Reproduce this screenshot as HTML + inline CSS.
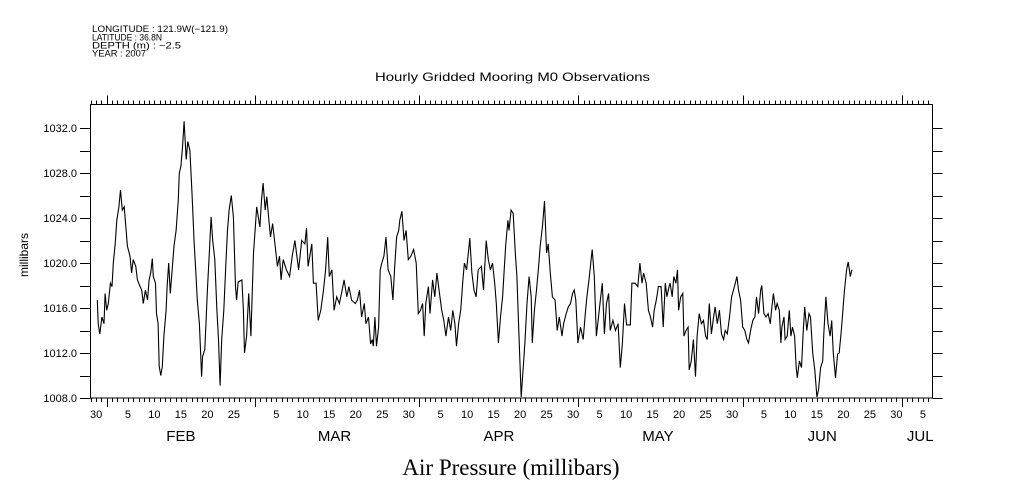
<!DOCTYPE html>
<html><head><meta charset="utf-8"><style>
html,body{margin:0;padding:0;background:#fff;}
svg{display:block;}
text{font-family:"Liberation Sans",sans-serif;fill:#000;}
</style></head><body>
<svg id="chart" width="1009" height="504" viewBox="0 0 1009 504" xmlns="http://www.w3.org/2000/svg">
<g font-size="9">
<text x="92" y="32" textLength="136" lengthAdjust="spacingAndGlyphs">LONGITUDE : 121.9W(−121.9)</text>
<text x="92" y="40.5" textLength="70" lengthAdjust="spacingAndGlyphs">LATITUDE : 36.8N</text>
<text x="92" y="48.5" textLength="89" lengthAdjust="spacingAndGlyphs">DEPTH (m) : −2.5</text>
<text x="92" y="56.5" textLength="54" lengthAdjust="spacingAndGlyphs">YEAR : 2007</text>
</g>
<text x="375" y="81" font-size="12" textLength="275" lengthAdjust="spacingAndGlyphs">Hourly Gridded Mooring M0 Observations</text>
<text transform="translate(28,255) rotate(-90)" text-anchor="middle" font-size="12">millibars</text>
<text x="511" y="475" text-anchor="middle" font-size="23" style="font-family:'Liberation Serif',serif">Air Pressure (millibars)</text>
<rect x="90.5" y="104.5" width="842" height="293.5" fill="none" stroke="#000" stroke-width="1"/>
<g id="axes"></g>
<g id="series"></g>
</svg>
<script>
// time in days since Feb 1 2007; values in millibars
const days = [-1.77,-1.6,-1.3,-0.9,-0.5,-0.3,0,0.3,0.7,1.0,1.25,1.6,1.9,2.3,2.6,2.95,3.3,3.5,3.9,4.4,4.7,5.0,5.5,5.8,6.3,6.6,6.9,7.3,7.7,8.0,8.3,8.6,8.8,9.2,9.4,9.7,9.9,10.2,10.5,10.8,11.2,11.4,11.7,12.0,12.3,12.7,13.1,13.5,13.7,14.0,14.3,14.6,15.0,15.3,15.7,16.1,16.5,16.8,17.1,17.5,17.9,18.1,18.5,18.7,19.0,19.4,19.7,20.0,20.4,20.8,21.1,21.4,21.7,22.1,22.5,22.8,23.1,23.5,23.9,24.3,24.5,24.8,25.5,25.8,26.0,26.4,26.8,27.2,27.4,27.7,28.0,28.3,28.6,28.9,29.2,29.5,29.9,30.2,30.6,30.9,31.3,31.8,32.2,32.6,32.9,33.3,33.9,34.5,
35.0,35.5,36.2,36.8,37.4,37.7,38.0,38.7,39.0,39.5,39.9,40.4,40.9,41.3,41.7,42.0,42.5,42.9,43.4,43.9,44.3,44.8,45.3,45.7,46.2,46.9,47.3,47.7,48.1,48.6,48.9,49.4,49.8,50.1,50.3,50.6,50.9,51.3,51.6,51.9,52.3,52.7,53.1,53.6,54.0,54.3,54.7,55.1,55.3,55.7,56.1,56.5,56.9,57.4,57.9,58.4,58.8,59.2,59.6,59.9,60.2,60.7,61.0,61.5,61.9,62.3,62.8,63.2,63.6,64.0,64.5,64.9,65.3,65.7,66.0,66.4,66.8,67.2,67.5,67.9,68.3,68.5,68.9,69.3,69.7,70.1,
70.7,71.1,71.6,72.0,72.4,72.8,73.2,73.5,73.9,74.3,74.7,75.0,75.3,75.7,75.9,76.3,76.7,77.1,77.4,77.8,78.2,78.6,78.9,79.3,79.7,80.1,80.3,80.7,81.1,81.5,81.8,82.2,82.6,83.0,83.3,83.7,84.1,84.6,85.0,85.4,85.9,86.2,86.7,87.1,87.5,87.9,88.2,88.5,88.9,89.4,89.9,90.3,90.6,91.0,91.4,91.6,92.0,92.4,92.8,93.2,93.5,93.9,94.3,94.7,95.0,95.5,96.0,96.5,96.9,97.3,97.7,98.1,98.8,99.1,99.7,100.2,100.6,101.0,101.3,101.8,102.2,102.6,103.0,103.3,103.7,104.1,104.6,105.0,105.4,105.7,106.1,
106.3,106.7,107.0,107.4,107.7,107.9,108.3,108.7,108.9,109.3,109.7,109.9,110.3,110.7,111.1,111.4,111.8,112.2,112.6,113.0,113.3,113.7,114.1,114.5,114.8,115.2,115.6,116.0,116.4,116.7,117.1,117.5,117.9,118.2,118.6,118.9,119.2,119.6,120.0,120.4,120.8,121.1,121.5,121.9,122.3,122.6,123.0,123.4,123.6,124.0,124.4,124.8,125.2,125.5,125.8,126.2,126.5,126.9,127.2,127.4,127.8,128.0,128.4,128.8,129.1,129.4,129.8,130.1,130.3,130.7,131.1,131.4,131.7,132.1,132.5,132.8,133.2,133.6,134.0,134.3,134.7,135.1,135.3,135.7,136.1,136.5,136.8,137.1,137.5,137.9,138.2,138.6,138.9,139.2,139.6,139.9,140.3,140.6];
const pressure = [1016.7,1014.6,1013.7,1015.2,1014.6,1017.3,1015.8,1016.4,1018.2,1017.9,1020.0,1021.7,1023.8,1025.0,1026.5,1024.7,1025.0,1023.8,1021.5,1020.6,1019.1,1020.3,1019.7,1018.5,1017.9,1017.6,1016.4,1017.6,1016.7,1018.5,1019.1,1020.4,1018.8,1018.2,1015.5,1014.6,1010.8,1010.0,1010.8,1013.5,1015.8,1017.9,1020.0,1017.3,1019.1,1021.5,1022.9,1025.6,1028.0,1028.6,1030.3,1032.6,1029.2,1030.8,1030.0,1026.2,1021.7,1019.4,1016.7,1014.6,1009.9,1011.7,1012.3,1014.3,1017.6,1021.2,1024.1,1022.0,1020.3,1015.8,1013.2,1009.1,1013.2,1015.8,1020.0,1022.9,1024.7,1026.0,1024.1,1017.9,1016.7,1018.3,1018.5,1015.8,1012.0,1013.5,1017.3,1013.5,1016.4,1020.9,1022.9,1025.0,1024.1,1023.2,1025.6,1027.1,1024.7,1025.9,1023.8,1022.3,1023.5,1021.5,1019.7,1020.6,1018.5,1020.3,1019.4,1018.8,
1020.6,1022.0,1019.4,1022.0,1021.7,1023.1,1019.7,1021.7,1018.2,1018.2,1014.9,1015.8,1017.6,1019.4,1022.3,1018.8,1019.4,1015.8,1017.0,1016.4,1017.3,1018.5,1017.0,1017.9,1016.7,1016.4,1016.7,1017.6,1015.2,1016.4,1014.6,1015.2,1012.8,1013.2,1012.6,1015.2,1012.6,1014.3,1019.4,1020.0,1020.6,1022.3,1019.4,1018.8,1016.7,1019.4,1022.3,1022.9,1023.8,1024.6,1022.0,1022.9,1020.3,1020.6,1021.2,1020.0,1015.5,1015.8,1016.4,1013.5,1016.4,1017.9,1015.5,1018.5,1017.0,1019.1,1017.3,1015.8,1014.9,1013.5,1015.2,1014.0,1015.8,1014.6,1012.6,1014.6,1015.8,1018.5,1020.0,1019.4,1021.2,1022.2,1019.1,1017.6,1017.0,1019.4,
1019.7,1017.6,1022.0,1020.3,1019.4,1020.0,1018.2,1016.4,1012.9,1015.2,1017.0,1019.4,1021.7,1023.8,1022.9,1024.7,1024.4,1020.9,1018.8,1013.5,1008.1,1010.8,1012.9,1016.4,1018.8,1017.0,1012.9,1015.8,1017.6,1019.7,1021.5,1023.2,1025.5,1020.9,1021.7,1019.1,1017.0,1016.7,1014.0,1015.2,1013.5,1014.6,1015.5,1016.1,1016.4,1017.3,1017.6,1016.7,1012.9,1014.3,1013.2,1015.5,1017.0,1018.5,1020.3,1021.2,1018.8,1013.5,1015.2,1017.0,1018.2,1013.7,1016.4,1017.3,1014.0,1014.9,1014.0,1014.6,1010.7,1012.9,1016.4,1014.5,1014.5,1018.2,1018.2,1017.9,1020.0,1018.2,1019.1,1018.2,1015.8,1015.2,1014.3,1015.8,1016.7,1017.9,1017.9,1014.3,1018.2,1017.0,1017.9,
1018.2,1017.0,1018.8,1018.2,1019.4,1015.8,1017.0,1017.3,1013.5,1014.0,1014.3,1010.5,1011.3,1013.2,1009.9,1013.5,1015.5,1014.6,1014.9,1013.5,1013.2,1016.4,1013.7,1015.2,1016.1,1014.6,1015.8,1013.7,1013.2,1014.0,1013.7,1015.2,1017.0,1017.5,1018.2,1018.8,1017.6,1016.7,1014.3,1014.0,1013.2,1012.9,1014.0,1014.9,1015.2,1017.0,1015.5,1017.6,1018.0,1015.5,1015.2,1015.5,1014.6,1016.1,1017.3,1015.8,1016.4,1015.8,1012.9,1014.3,1015.2,1013.2,1013.5,1015.8,1013.5,1014.3,1013.5,1010.7,1009.8,1011.3,1010.7,1013.7,1016.1,1014.0,1015.5,1015.2,1012.0,1010.5,1008.1,1008.7,1010.7,1011.3,1013.7,1017.0,1014.6,1013.5,1014.9,1012.0,1009.8,1011.9,1012.0,1014.0,1015.8,1017.6,1019.4,1020.1,1018.8,1019.4];
const yTicks = [1008,1012,1016,1020,1024,1028,1032];
const yTickLabels = ["1008.0","1012.0","1016.0","1020.0","1024.0","1028.0","1032.0"];
const dayLabels = ["30","5","10","15","20","25","5","10","15","20","25","30","5","10","15","20","25","30","5","10","15","20","25","30","5","10","15","20","25","30","5","10","15","20","25","30","5"];
const dayLabelPos = [-2,4,9,14,19,24,32,37,42,47,52,57,63,68,73,78,83,88,93,98,103,108,113,118,124,129,134,139,144,149,154,159,164,169,174,179,184];
const monthStarts = [0,28,59,89,120,150];
const monthNames = ["FEB","MAR","APR","MAY","JUN","JUL"];
const monthLabelDay = [14,43,74,104,135,153.5];

const X0=90.5, X1=932.5, Y0=104.5, Y1=398;
const xScale = t => 106.7 + 5.3*t;
const yScale = v => 398 - (v-1008)*11.25;
const NS="http://www.w3.org/2000/svg";
const axes=document.getElementById('axes');
const series=document.getElementById('series');
function mk(tag,attrs,parent){const e=document.createElementNS(NS,tag);for(const k in attrs)e.setAttribute(k,attrs[k]);parent.appendChild(e);return e;}

for(let v=1008; v<=1032; v+=2){
  const y=Math.round(yScale(v))+0.5;
  const l=mk('line',{x1:80,x2:X0,y1:y,y2:y,stroke:'#000'},axes);
  
  
  const r=mk('line',{x1:X1,x2:X1+10,y1:y,y2:y,stroke:'#000'},axes);
  
  
}
yTicks.forEach((v,i)=>{
  const t=mk('text',{x:77,y:yScale(v)+4,'text-anchor':'end','font-size':'11'},axes);
  t.textContent=yTickLabels[i];
  
  
});
for(let d=-3; d<=157; d++){
  const x=Math.round(xScale(d))+0.5;
  if(x<X0||x>X1+0.5) continue;
  const major=monthStarts.includes(d);
  const len=major?9:4;
  const b=mk('line',{x1:x,x2:x,y1:Y1,y2:Y1+len,stroke:'#000'},axes);
  
  
  const t=mk('line',{x1:x,x2:x,y1:Y0,y2:Y0-len,stroke:'#000'},axes);
  
  
}
dayLabels.forEach((s,i)=>{
  const x=xScale(dayLabelPos[i]);
  if(x>X1+5) return;
  const t=mk('text',{x:x,y:418,'text-anchor':'middle','font-size':'11'},axes);
  t.textContent=s;
  
  
});
monthNames.forEach((m,i)=>{
  const t=mk('text',{x:xScale(monthLabelDay[i]),y:441,'text-anchor':'middle','font-size':'15'},axes);
  t.textContent=m;
  
  
});
const pts=days.map((d,i)=>xScale(d).toFixed(1)+','+yScale(pressure[i]).toFixed(1)).join(' ');
const pl=mk('polyline',{points:pts,fill:'none',stroke:'#000','stroke-width':'1.1'},series);


</script>
</body></html>
